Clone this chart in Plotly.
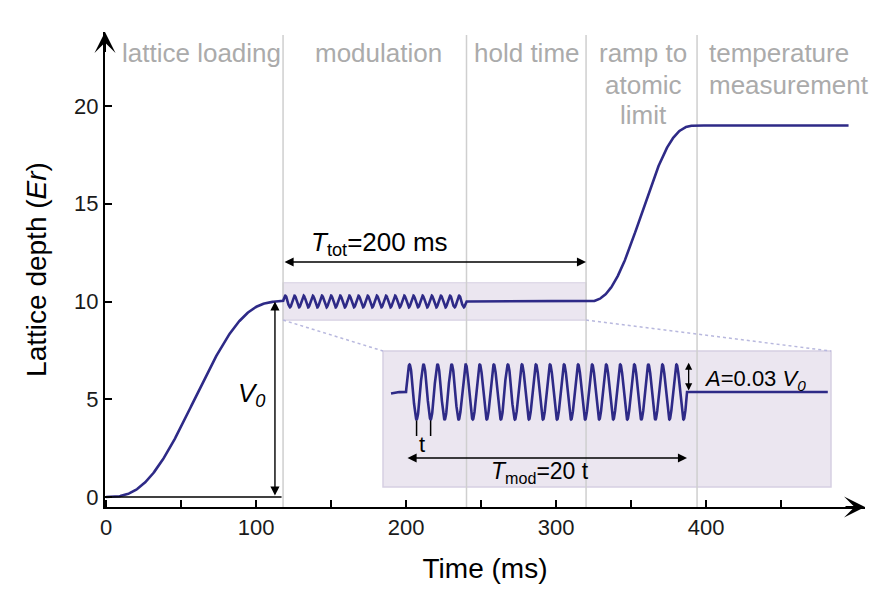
import numpy as np
import plotly.graph_objects as go

# ---------------- data ----------------
phase_start_ms = [0, 118, 240, 320, 394]
phase_end_ms = [118, 240, 320, 394, 495]
depth_start_er = [0, 10, 10, 10, 19]
depth_end_er = [10, 10, 10, 19, 19]
phase_kind = ["ramp", "mod", "flat", "ramp", "flat"]
phase_label_lines = [["lattice loading"], ["modulation"], ["hold time"],
                     ["ramp to", "atomic", "limit"], ["temperature", "measurement"]]
V0 = 10.0
mod_cycles = 20
mod_rel_amp = 0.03
boundary_ms = [118, 240.3, 320, 394]
x_tick_vals = [0, 50, 100, 150, 200, 250, 300, 350, 400, 450]
x_tick_text = ["0", "", "100", "", "200", "", "300", "", "400", ""]
y_tick_vals = [0, 5, 10, 15, 20]

# ---------------- build the schematic waveform ----------------
def smoother(s):
    return 6 * s**5 - 15 * s**4 + 10 * s**3

ts, vs = [], []
for t0, t1, v0, v1, kind in zip(phase_start_ms, phase_end_ms, depth_start_er, depth_end_er, phase_kind):
    n = 1200 if kind == "mod" else 200
    t = np.linspace(t0, t1, n)
    s = (t - t0) / (t1 - t0)
    if kind == "ramp":
        v = v0 + (v1 - v0) * smoother(s)
    elif kind == "mod":
        v = v0 + mod_rel_amp * V0 * np.sin(2 * np.pi * mod_cycles * s)
    else:
        v = v0 + (v1 - v0) * s
    ts.append(t)
    vs.append(v)
time = np.concatenate(ts)
depth = np.concatenate(vs)

# ---------------- geometry (page body has an 8px margin) ----------------
BODY = 8
W, H = 884 - 2 * BODY, 595 - 2 * BODY
PL, PR, PT, PB = 105, 865, 32, 507          # plot area in screen pixels
Y0_PX = 497                                  # screen row of depth 0
ml, mt = PL - BODY, PT - BODY
mr, mb = W - (PR - BODY), H - (PB - BODY)
pw, ph = PR - PL, PB - PT
xr = [-0.7, -0.7 + pw / 1.5]
yr = [(Y0_PX - PB) / 19.55, (Y0_PX - PB) / 19.55 + ph / 19.55]

ins_xdom = [(383 - PL) / pw, (831 - PL) / pw]
ins_ydom = [(PB - 487) / ph, (PB - 351) / ph]
ins_xr = [108.0, 302.5]
ins_yr = [8.964, 10.447]

def dom2x(f):
    return xr[0] + f * (xr[1] - xr[0])

def dom2y(f):
    return yr[0] + f * (yr[1] - yr[0])

LINE = "#2e2a87"
GRAY = "#ababab"
FONT = "Liberation Sans, Arial, Helvetica, sans-serif"
BAND = "#ebe6f0"
BAND_EDGE = "#d6cfe2"

fig = go.Figure()
fig.add_trace(go.Scatter(x=time, y=depth, mode="lines",
                         line=dict(color=LINE, width=2.6), showlegend=False,
                         hoverinfo="skip"))
mask = (time >= 111.0) & (time <= 301.2)
fig.add_trace(go.Scatter(x=time[mask], y=depth[mask], mode="lines", xaxis="x2", yaxis="y2",
                         line=dict(color=LINE, width=2.6), showlegend=False,
                         hoverinfo="skip"))

shapes = []
# modulation band in main plot
shapes.append(dict(type="rect", xref="x", yref="y", x0=118, x1=320, y0=9.05, y1=10.96,
                   fillcolor=BAND, line=dict(color=BAND_EDGE, width=1.2), layer="below"))
# phase boundary lines
for b in boundary_ms:
    shapes.append(dict(type="line", xref="x", yref="y", x0=b, x1=b, y0=yr[0], y1=23.63,
                       line=dict(color="#cfcfcf", width=1.5), layer="below"))
# dotted connectors
shapes.append(dict(type="line", xref="x", yref="y", x0=118, y0=9.05,
                   x1=dom2x(ins_xdom[0]), y1=dom2y(ins_ydom[1]),
                   line=dict(color="#b8b8de", width=1.5, dash="dot"), layer="below"))
shapes.append(dict(type="line", xref="x", yref="y", x0=320, y0=9.05,
                   x1=dom2x(ins_xdom[1]), y1=dom2y(ins_ydom[1]),
                   line=dict(color="#b8b8de", width=1.5, dash="dot"), layer="below"))
# inset background
shapes.append(dict(type="rect", xref="x2 domain", yref="y2 domain", x0=0, x1=1, y0=0, y1=1,
                   fillcolor=BAND, line=dict(color=BAND_EDGE, width=1.5), layer="below"))
# V0 baseline
shapes.append(dict(type="line", xref="x", yref="y", x0=0, x1=117, y0=0, y1=0,
                   line=dict(color="black", width=1.5)))
# t markers in inset
period = (phase_end_ms[1] - phase_start_ms[1]) / mod_cycles
for k in range(2):
    tx = phase_start_ms[1] + 0.75 * period + k * period
    shapes.append(dict(type="line", xref="x2", yref="y2", x0=tx, x1=tx, y0=9.69, y1=9.52,
                       line=dict(color="black", width=1.5)))

ann = []
# axis arrows
ann.append(dict(x=xr[1], y=yr[0], ax=xr[1] - 14, ay=yr[0], xref="x", yref="y", axref="x", ayref="y",
                text="", showarrow=True, arrowhead=3, arrowsize=1.75, arrowwidth=2, arrowcolor="black"))
ann.append(dict(x=xr[0], y=yr[1], ax=xr[0], ay=yr[1] - 1.1, xref="x", yref="y", axref="x", ayref="y",
                text="", showarrow=True, arrowhead=3, arrowsize=1.75, arrowwidth=2, arrowcolor="black"))

def dbl_arrow(x0, y0, x1, y1, xref="x", yref="y", size=1.3, width=1.4):
    return dict(x=x1, y=y1, ax=x0, ay=y0, xref=xref, yref=yref, axref=xref, ayref=yref,
                text="", showarrow=True, arrowhead=2, arrowsize=size, arrowwidth=width,
                startarrowhead=2, startarrowsize=size, arrowside="end+start", arrowcolor="black")

ann.append(dbl_arrow(118, 12.02, 320, 12.02))
ann.append(dbl_arrow(112.6, 0.0, 112.6, 10.0))
ann.append(dict(x=182.6, y=12.95, xref="x", yref="y", showarrow=False,
                text="<i>T</i><sub>tot</sub>=200 ms", font=dict(family=FONT, size=26, color="black")))
ann.append(dict(x=97.0, y=5.22, xref="x", yref="y", showarrow=False,
                text="<i>V<sub>0</sub></i>", font=dict(family=FONT, size=26, color="black")))

# inset annotations
ann.append(dbl_arrow(118, 9.28, 240, 9.28, xref="x2", yref="y2"))
ann.append(dbl_arrow(240.7, 10.0, 240.7, 10.32, xref="x2", yref="y2", size=1.1, width=1.3))
ann.append(dict(x=124.9, y=9.43, xref="x2", yref="y2", showarrow=False, text="t",
                font=dict(family=FONT, size=22, color="black")))
ann.append(dict(x=176.2, y=9.12, xref="x2", yref="y2", showarrow=False,
                text="<i>T</i><sub>mod</sub>=20 t", font=dict(family=FONT, size=23, color="black")))
ann.append(dict(x=246.5, y=10.13, xref="x2", yref="y2", showarrow=False, xanchor="left",
                text="<i>A</i>=0.03 <i>V<sub>0</sub></i>", font=dict(family=FONT, size=22, color="black")))

# phase labels
line_y = [22.71, 21.08, 19.54]
label_x = [63.3, 181.3, 280.6, 358.0, 400.5]
label_anchor = ["center", "center", "center", "center", "left"]
for lines, lx, anc in zip(phase_label_lines, label_x, label_anchor):
    for i, txt in enumerate(lines):
        ann.append(dict(x=lx, y=line_y[i], xref="x", yref="y", showarrow=False, text=txt,
                        xanchor=anc, font=dict(family=FONT, size=26, color=GRAY)))

fig.update_layout(
    width=W, height=H,
    margin=dict(l=ml, r=mr, t=mt, b=mb, autoexpand=False),
    paper_bgcolor="white", plot_bgcolor="rgba(0,0,0,0)",
    font=dict(family=FONT, color="black"),
    shapes=shapes, annotations=ann, showlegend=False,
    xaxis=dict(range=xr, showgrid=False, zeroline=False, showline=True, linecolor="black",
               linewidth=2, ticks="inside", ticklen=7, tickwidth=1.5, tickcolor="black",
               tickvals=x_tick_vals, ticktext=x_tick_text, ticklabelstandoff=0, automargin=False,
               tickfont=dict(family=FONT, size=22, color="#1a1a1a"),
               title=dict(text="Time (ms)", font=dict(family=FONT, size=28, color="black"), standoff=19)),
    yaxis=dict(range=yr, showgrid=False, zeroline=False, showline=True, linecolor="black",
               linewidth=2, ticks="inside", ticklen=7, tickwidth=1.5, tickcolor="black",
               tickvals=y_tick_vals, automargin=False,
               tickfont=dict(family=FONT, size=22, color="#1a1a1a"),
               title=dict(text="Lattice depth (<i>Er</i>)", font=dict(family=FONT, size=28, color="black"),
                          standoff=19)),
    xaxis2=dict(domain=ins_xdom, range=ins_xr, anchor="y2", visible=False),
    yaxis2=dict(domain=ins_ydom, range=ins_yr, anchor="x2", visible=False),
)

fig.write_html("out.html")
